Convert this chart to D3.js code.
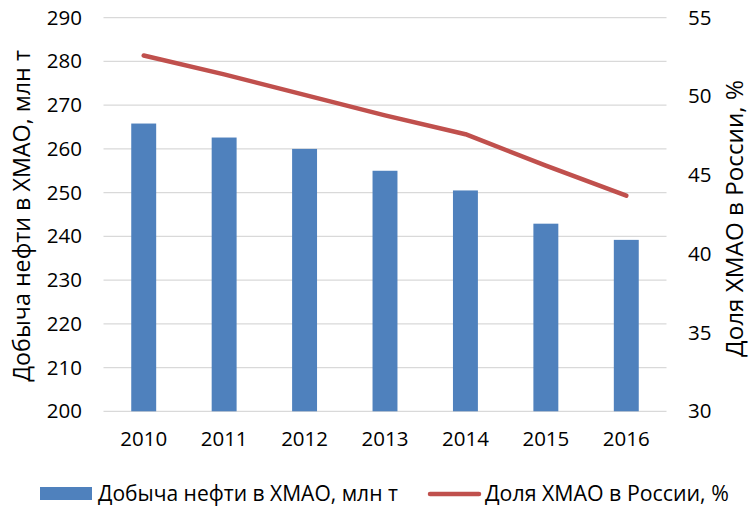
<!DOCTYPE html>
<html><head><meta charset="utf-8">
<script src="https://cdn.jsdelivr.net/npm/d3@7"></script>
<style>body{margin:0;background:#fff}svg{display:block}text{font-family:"Open Sans",sans-serif;fill:#000}</style>
</head><body><svg id="c" width="750" height="508"></svg>
<script>
const years = ["2010","2011","2012","2013","2014","2015","2016"];
const production = [265.8, 262.6, 260.0, 255.0, 250.5, 242.9, 239.2];
const share = [52.6, 51.4, 50.1, 48.8, 47.6, 45.6, 43.7];
const leftTicks = [200,210,220,230,240,250,260,270,280,290];
const rightTicks = [30,35,40,45,50,55];
const seriesNames = ["Добыча нефти в ХМАО, млн т","Доля ХМАО в России, %"];
const axisTitles = ["Добыча нефти в ХМАО, млн т","Доля ХМАО в России, %"];

const svg = d3.select("#c");
const L=103.5, R=666.5, T=17.7, B=411.3;
const fs = 20.5;
const x = d3.scaleBand().domain(years).range([L,R]).paddingInner(0.69).paddingOuter(0.345);
const yL = d3.scaleLinear().domain([200,290]).range([B,T]);
const yR = d3.scaleLinear().domain([30,55]).range([B,T]);

function fit(sel, target){
  const n = sel.node(); const f = parseFloat(sel.attr("font-size"));
  const w = n.getComputedTextLength();
  sel.attr("font-size", f*target/w);
}

// gridlines
svg.append("g").selectAll("line").data(leftTicks).join("line")
  .attr("x1",L).attr("x2",R).attr("y1",d=>yL(d)).attr("y2",d=>yL(d))
  .attr("stroke","#d9d9d9").attr("stroke-width",1.3);

// bars
svg.append("g").selectAll("rect").data(years).join("rect")
  .attr("x",d=>x(d)).attr("width",x.bandwidth())
  .attr("y",(d,i)=>yL(production[i])).attr("height",(d,i)=>yL(200)-yL(production[i]))
  .attr("fill","#4f81bd");

// line
const line = d3.line().x((d,i)=>x(years[i])+x.bandwidth()/2).y(d=>yR(d));
svg.append("path").datum(share).attr("d",line).attr("fill","none")
  .attr("stroke","#c0504d").attr("stroke-width",4.5).attr("stroke-linejoin","round").attr("stroke-linecap","round");

// left axis
const ax = d3.axisLeft(yL).tickValues(leftTicks).tickSize(0).tickPadding(0);
const gL = svg.append("g").attr("transform",`translate(82,0)`).call(ax);
gL.select(".domain").remove();
gL.selectAll("text").attr("font-size",fs).attr("font-family","Open Sans").attr("fill","#000");

const axR = d3.axisRight(yR).tickValues(rightTicks).tickSize(0).tickPadding(0);
const gR = svg.append("g").attr("transform",`translate(688,0)`).call(axR);
gR.select(".domain").remove();
gR.selectAll("text").attr("font-size",fs).attr("font-family","Open Sans").attr("fill","#000");

const axB = d3.axisBottom(x).tickSize(0).tickPadding(0);
const gB = svg.append("g").attr("transform",`translate(0,${B+20})`).call(axB);
gB.select(".domain").remove();
gB.selectAll("text").attr("font-size",fs).attr("font-family","Open Sans").attr("fill","#000");

// axis titles
const t1 = svg.append("text").attr("transform",`translate(30,216) rotate(-90)`)
  .attr("text-anchor","middle").attr("font-size",20).text(axisTitles[0]);
fit(t1, 332);
const t2 = svg.append("text").attr("transform",`translate(743,218.5) rotate(-90)`)
  .attr("text-anchor","middle").attr("font-size",20).text(axisTitles[1]);
fit(t2, 277);

// legend
const lg = svg.append("g");
lg.append("rect").attr("x",40).attr("y",487).attr("width",52).attr("height",13).attr("fill","#4f81bd");
const l1 = lg.append("text").attr("x",98).attr("y",501).attr("font-size",20).text(seriesNames[0]);
fit(l1, 300);
lg.append("line").attr("x1",430).attr("x2",479).attr("y1",494).attr("y2",494)
  .attr("stroke","#c0504d").attr("stroke-width",4.5).attr("stroke-linecap","round");
const l2 = lg.append("text").attr("x",485).attr("y",501).attr("font-size",20).text(seriesNames[1]);
fit(l2, 244);
</script></body></html>
